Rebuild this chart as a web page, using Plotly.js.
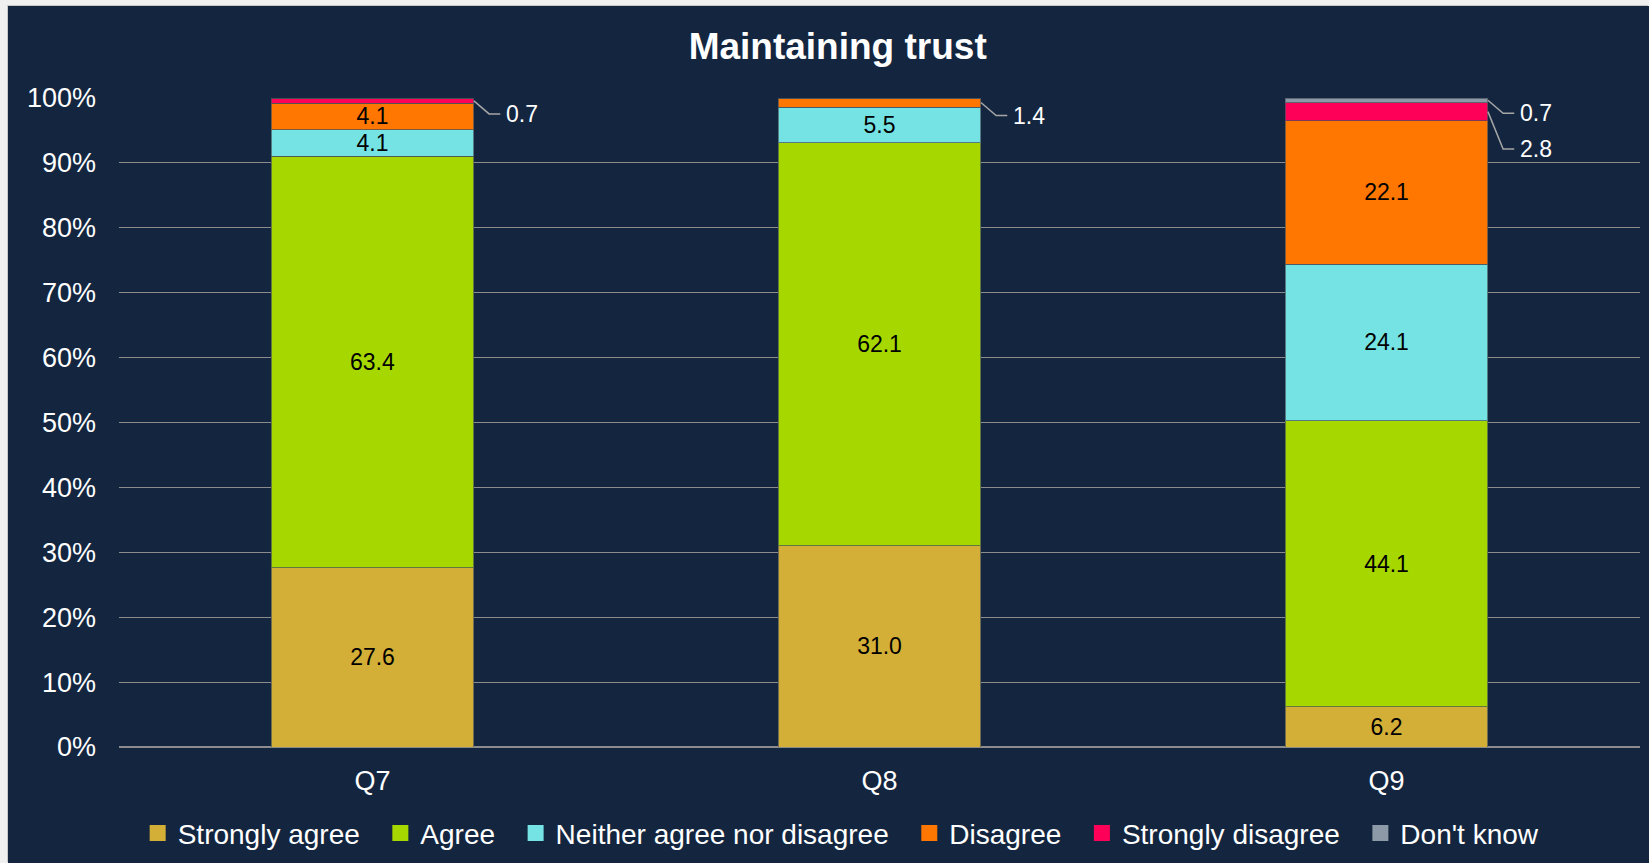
<!DOCTYPE html>
<html>
<head>
<meta charset="utf-8">
<script src="https://cdn.plot.ly/plotly-3.0.1.min.js"></script>
<style>
  html, body { margin: 0; padding: 0; background: #f0f0f0; width: 1649px; height: 863px; overflow: hidden; }
  #chart { position: absolute; left: 8px; top: 6px; width: 1641px; height: 857px; box-shadow: -1px -1px 0 #c8c8c8; }
</style>
</head>
<body>
<div id="chart"></div>
<script>
// ---- data ----
const questions = ['Q7', 'Q8', 'Q9'];
const seriesNames = ['Strongly agree', 'Agree', 'Neither agree nor disagree', 'Disagree', 'Strongly disagree', "Don't know"];
const stronglyAgree    = [27.6, 31.0, 6.2];
const agree            = [63.4, 62.1, 44.1];
const neither          = [4.1, 5.5, 24.1];
const disagree         = [4.1, 1.4, 22.1];
const stronglyDisagree = [0.7, 0.0, 2.8];
const dontKnow         = [0.0, 0.0, 0.7];
const yTicks = [0, 10, 20, 30, 40, 50, 60, 70, 80, 90, 100];

// ---- style ----
const colors = ['#D4AF37', '#A6D800', '#75E3E3', '#FF7700', '#FF0058', '#8D99A6'];
const bg = '#14263F';
const FONT = '"Liberation Sans", Arial, sans-serif';
const barWidth = 0.4;
const insideMin = 3;   // smaller segments get a callout instead of an inside label
const legendPad = '\u00a0\u00a0';

const values = [stronglyAgree, agree, neither, disagree, stronglyDisagree, dontKnow];
const xs = questions.map((q, i) => i);

const traces = values.map((vals, s) => ({
  type: 'bar',
  name: seriesNames[s],
  x: xs,
  y: vals,
  width: barWidth,
  marker: { color: colors[s], line: { color: 'rgba(70,80,90,0.7)', width: 1 } },
  text: vals.map(v => v >= insideMin ? v.toFixed(1) : ''),
  textposition: 'inside',
  insidetextanchor: 'middle',
  textangle: 0,
  constraintext: 'none',
  textfont: { family: FONT, size: 23, color: '#000000' },
  showlegend: false,
  hoverinfo: 'name+y'
}));

// legend entries (larger square swatches)
const legendTraces = seriesNames.map((nm, s) => ({
  type: 'bar',
  name: nm + (s < seriesNames.length - 1 ? legendPad : ''),
  x: [null], y: [null],
  marker: { color: colors[s], line: { color: colors[s], width: 4 } },
  showlegend: true, hoverinfo: 'skip'
}));

// callouts for small segments
const annotations = [];
const leaderTraces = [];
questions.forEach((q, i) => {
  let base = 0;
  const segs = [];
  values.forEach((vals, s) => {
    const v = vals[i];
    if (v > 0 && v < insideMin) segs.push({ v, mid: base + v / 2 });
    base += v;
  });
  segs.sort((a, b) => b.mid - a.mid);
  let prev = Infinity;
  segs.forEach(sg => {
    const ly = Math.min(sg.mid - 2, prev - 5.5);
    prev = ly;
    const x0 = i + barWidth / 2;
    leaderTraces.push({
      type: 'scatter', mode: 'lines',
      x: [x0, x0 + 0.03, x0 + 0.052],
      y: [sg.mid, ly, ly],
      line: { color: '#A6A6A6', width: 1.5 },
      showlegend: false, hoverinfo: 'skip'
    });
    annotations.push({
      x: x0 + 0.06, y: ly, xref: 'x', yref: 'y',
      text: sg.v.toFixed(1), showarrow: false,
      xanchor: 'left', yanchor: 'middle',
      font: { family: FONT, size: 23, color: '#FFFFFF' }
    });
  });
});

const layout = {
  width: 1641, height: 857,
  paper_bgcolor: bg, plot_bgcolor: bg,
  barmode: 'stack',
  bargap: 0.6,
  margin: { l: 111, r: 9, t: 92, b: 116, pad: 0, autoexpand: false },
  font: { family: FONT, color: '#FFFFFF' },
  title: {
    text: '<b>Maintaining trust</b>',
    x: 0.5056, xanchor: 'center', xref: 'container',
    y: 0.953, yanchor: 'middle', yref: 'container',
    font: { family: FONT, size: 37, color: '#FFFFFF' }
  },
  xaxis: {
    range: [-0.5, 2.5],
    tickvals: xs, ticktext: questions,
    showgrid: false, zeroline: false, showline: false,
    ticks: '', ticklabelstandoff: 15,
    tickfont: { family: FONT, size: 27, color: '#FFFFFF' },
    fixedrange: true
  },
  yaxis: {
    range: [0, 100],
    tickvals: yTicks, ticktext: yTicks.map(t => t + '%'),
    showgrid: true, gridcolor: '#8C8C8C', gridwidth: 1,
    zeroline: true, zerolinecolor: '#8C8C8C', zerolinewidth: 2,
    showline: false, ticks: '', ticklabelstandoff: 22,
    tickfont: { family: FONT, size: 27, color: '#FFFFFF' },
    fixedrange: true
  },
  legend: {
    orientation: 'h', traceorder: 'normal',
    x: 0.4748, xanchor: 'center', y: -0.133, yanchor: 'middle',
    font: { family: FONT, size: 28, color: '#FFFFFF' },
    bgcolor: 'rgba(0,0,0,0)', itemclick: false, itemdoubleclick: false
  },
  annotations: annotations,
  showlegend: true
};

Plotly.newPlot('chart', traces.concat(legendTraces, leaderTraces), layout, { displayModeBar: false, staticPlot: true });
</script>
</body>
</html>
